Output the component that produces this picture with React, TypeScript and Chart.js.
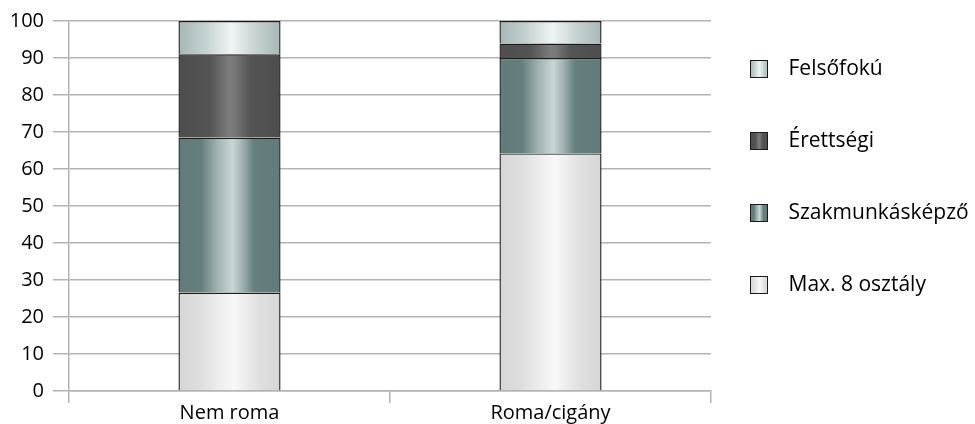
import React, { useEffect, useRef } from 'react';
import { Chart, registerables } from 'chart.js';

Chart.register(...registerables);

const categories = ['Nem roma', 'Roma/cigány'];
const max8 = [26.6, 64.2];
const szakmunkas = [41.9, 25.8];
const erettsegi = [22.5, 3.9];
const felsofoku = [9.0, 6.1];
const seriesLabels = ['Max. 8 osztály', 'Szakmunkásképző', 'Érettségi', 'Felsőfokú'];
const seriesValues = [max8, szakmunkas, erettsegi, felsofoku];

const FONT = "'Open Sans', sans-serif";
const GRID = '#b3b3b3';
const BORDER = '#1a1a1a';
const CAT_PCT = 0.318;
const LEGEND_PAD = 29;
const LEGEND_W = 264;
const PSW = 38;
const SWATCH = 18;

const STOPS: [number, string][][] = [
  [[0, '#d6d6d6'], [0.2, '#dddddd'], [0.54, '#f8f8f8'], [0.8, '#dfdfdf'], [1, '#d6d6d6']],
  [[0, '#617b7a'], [0.22, '#647e7d'], [0.38, '#a0b2b1'], [0.53, '#cad6d6'], [0.62, '#a3b4b4'], [0.74, '#657f7e'], [1, '#617b7a']],
  [[0, '#4e4e4e'], [0.3, '#535353'], [0.5, '#7c7c7c'], [0.55, '#787878'], [0.7, '#545454'], [1, '#4e4e4e']],
  [[0, '#a5b7b6'], [0.25, '#c3d0d0'], [0.52, '#f0f4f4'], [0.75, '#c8d3d3'], [1, '#a6b8b7']],
];
const MID = ['#e6e6e6', '#7f9696', '#5f5f5f', '#cfdada'];

function gradient(ctx: CanvasRenderingContext2D, x0: number, x1: number, st: [number, string][]) {
  const g = ctx.createLinearGradient(x0, 0, x1, 0);
  st.forEach(([o, c]) => g.addColorStop(o, c));
  return g;
}

function makeSwatch(i: number) {
  const cv = document.createElement('canvas');
  cv.width = SWATCH;
  cv.height = SWATCH;
  const c = cv.getContext('2d')!;
  c.fillStyle = gradient(c, 0, SWATCH, STOPS[i]);
  c.fillRect(0, 0, SWATCH, SWATCH);
  c.strokeStyle = BORDER;
  c.lineWidth = 1;
  c.strokeRect(0.5, 0.5, SWATCH - 1, SWATCH - 1);
  return cv;
}

// Widen the right-hand legend box beyond Chart.js's default width cap.
const legendWidthPlugin = {
  id: 'legendWidth',
  beforeLayout(chart: any) {
    const lg = chart.legend;
    if (lg && !lg.__wide) {
      const fit = lg.fit;
      lg.fit = function (this: any) {
        fit.call(this);
        this.width = LEGEND_W;
      };
      lg.__wide = true;
    }
  },
};

export default function App() {
  const ref = useRef<HTMLCanvasElement>(null);

  useEffect(() => {
    document.body.style.margin = '0';
    const canvas = ref.current!;
    let chart: any = null;
    let cancelled = false;

    const build = () => {
      if (cancelled) return;
      const swatches = seriesLabels.map((_, i) => makeSwatch(i));
      const barFill = (c: any, i: number) => {
        const ch = c.chart;
        const area = ch.chartArea;
        const xs = ch.scales && ch.scales.x;
        if (!area || !xs || c.dataIndex === undefined) return MID[i];
        const w = (area.width / categories.length) * CAT_PCT;
        const cx = xs.getPixelForValue(c.dataIndex);
        return gradient(ch.ctx, cx - w / 2, cx + w / 2, STOPS[i]);
      };

      chart = new Chart(canvas, {
        type: 'bar',
        data: {
          labels: categories,
          datasets: seriesValues.map((d, i) => ({
            label: seriesLabels[i],
            data: d,
            backgroundColor: (c: any) => barFill(c, i),
            borderColor: BORDER,
            borderWidth: 1.4,
            categoryPercentage: CAT_PCT,
            barPercentage: 1,
          })),
        },
        options: {
          responsive: false,
          animation: false,
          layout: { padding: { top: 9, left: 0.7, right: 0, bottom: 0 } },
          scales: {
            x: {
              stacked: true,
              grid: { display: true, drawOnChartArea: false, drawTicks: true, tickLength: 12, color: GRID, lineWidth: 1.5, offset: true },
              border: { display: true, color: GRID, width: 1.5 },
              ticks: { font: { family: FONT, size: 20 }, color: '#000', padding: -1.5 },
            },
            y: {
              stacked: true,
              min: 0,
              max: 100,
              ticks: { stepSize: 10, font: { family: FONT, size: 20 }, color: '#000', padding: 9 },
              grid: { color: GRID, lineWidth: 1.5, tickLength: 16 },
              border: { display: true, color: GRID, width: 1.5 },
            },
          },
          plugins: {
            tooltip: { enabled: false },
            legend: {
              position: 'right',
              align: 'start',
              reverse: true,
              title: { display: true, text: ' ', font: { family: FONT, size: 20.5, lineHeight: 1 }, padding: 0 },
              labels: {
                usePointStyle: true,
                pointStyleWidth: PSW,
                padding: LEGEND_PAD,
                color: '#000',
                font: { family: FONT, size: 21, lineHeight: 43 / 21 },
                generateLabels: (ch: any) =>
                  ch.data.datasets.map((ds: any, i: number) => ({
                    text: [ds.label],
                    fillStyle: MID[i],
                    strokeStyle: BORDER,
                    lineWidth: 0,
                    pointStyle: swatches[i],
                    hidden: false,
                    datasetIndex: i,
                    fontColor: '#000',
                  })),
              },
            },
          },
        },
        plugins: [legendWidthPlugin],
      } as any);
    };

    const fs: any = (document as any).fonts;
    if (fs && fs.load) {
      Promise.all([fs.load("20px 'Open Sans'"), fs.load("21px 'Open Sans'")]).then(build, build);
    } else {
      build();
    }

    return () => {
      cancelled = true;
      if (chart) chart.destroy();
    };
  }, []);

  return (
    <div style={{ position: 'relative', width: 975, height: 424 }}>
      <canvas ref={ref} width={975} height={424} style={{ display: 'block' }} />
    </div>
  );
}
